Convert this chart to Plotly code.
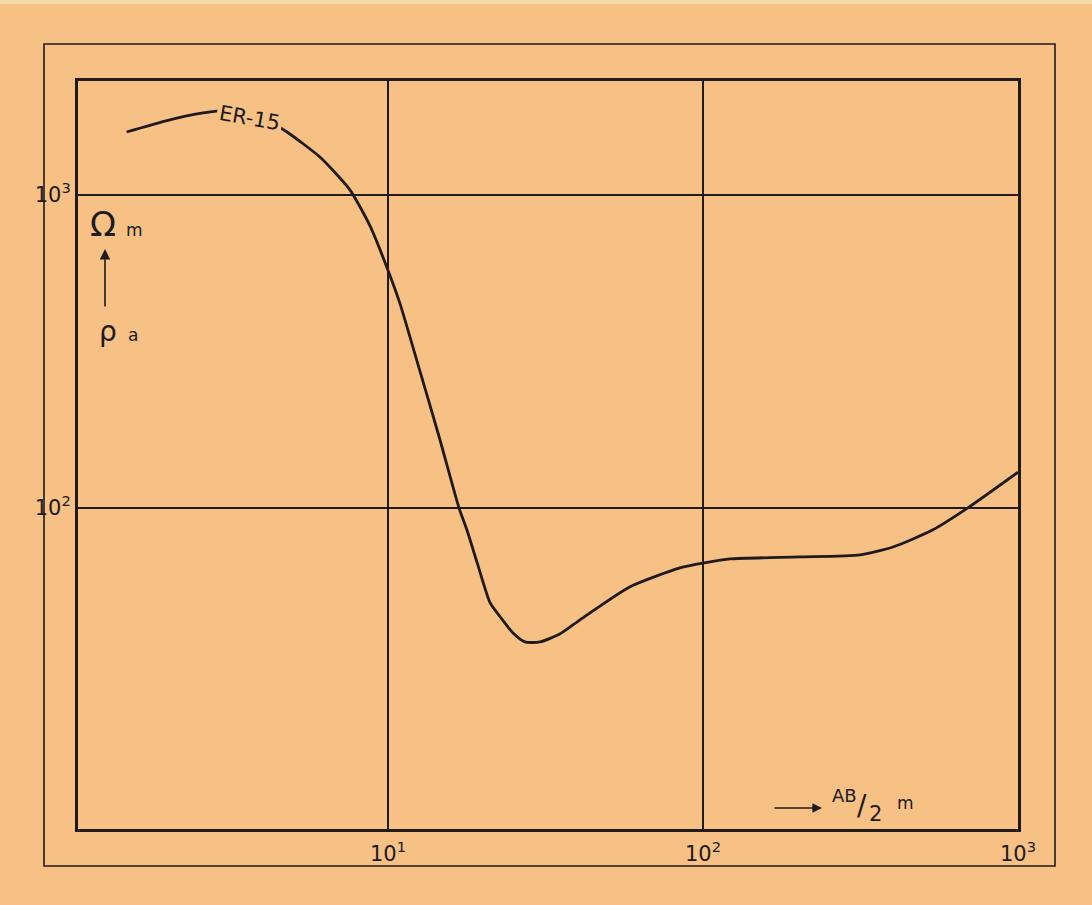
import plotly.graph_objects as go

# Data (AB/2 in m, apparent resistivity in ohm-m)
ab2 = [1.48, 1.96, 2.59, 3.27, 3.98, 4.78, 6.08, 7.57, 8.77, 10.0, 10.9, 12.6, 14.6,
       16.8, 17.8, 19.2, 21.1, 22.7, 24.9, 27.2, 30.4, 35.2, 40.7, 58.7, 84.5, 101,
       122, 203, 315, 401, 537, 693, 1000]
rho_a = [1589, 1722, 1828, 1869, 1775, 1589, 1321, 1038, 796, 575, 452, 276, 166,
         100, 85.1, 66.7, 49.7, 44.9, 39.9, 37.3, 37.3, 39.6, 43.9, 56.0, 64.3, 66.7,
         68.7, 69.7, 70.8, 75.0, 85.1, 100, 130]
x_tickvals = [10, 100, 1000]
x_ticktext = ["10<sup>1</sup>", "10<sup>2</sup>", "10<sup>3</sup>"]
y_tickvals = [100, 1000]
y_ticktext = ["10<sup>2</sup>", "10<sup>3</sup>"]
curve_name = "ER-15"

BG = "#F7C186"
INK = "#201a1c"
FONT = "DejaVu Sans"

W, H = 1092, 905
L, R, T, B = 78, 1018, 81, 829

def px(x):
    return (x - L) / (R - L)

def py(y):
    return (B - y) / (B - T)

fig = go.Figure()
fig.add_trace(go.Scatter(
    x=ab2, y=rho_a, mode="lines", name=curve_name,
    line=dict(color=INK, width=2.8, shape="spline", smoothing=0.6),
    showlegend=False, hoverinfo="skip",
))

axis_common = dict(
    type="log", showgrid=True, gridcolor=INK, gridwidth=1.6,
    showline=True, linecolor=INK, linewidth=3, mirror=True,
    ticks="", zeroline=False,
    tickfont=dict(family=FONT, size=21, color=INK),
)
fig.update_xaxes(range=[0.016, 3.0], tickmode="array", tickvals=x_tickvals,
                 ticktext=x_ticktext, ticklabelstandoff=4, **axis_common)
fig.update_yaxes(range=[0.974, 3.364], tickmode="array", tickvals=y_tickvals,
                 ticktext=y_ticktext, ticklabelstandoff=0, **axis_common)

shapes = [
    dict(type="rect", xref="paper", yref="paper",
         x0=px(44), x1=px(1055), y0=py(866), y1=py(44),
         line=dict(color=INK, width=1.6), fillcolor="rgba(0,0,0,0)", layer="below"),
    dict(type="rect", xref="paper", yref="paper",
         x0=px(0), x1=px(W), y0=py(4), y1=py(0),
         line=dict(width=0), fillcolor="#F4DCA8", layer="below"),
]

def txt(x, y, s, size, angle=0, bg=None):
    d = dict(xref="paper", yref="paper", x=px(x), y=py(y), text=s,
             xanchor="center", yanchor="middle", showarrow=False, textangle=angle,
             font=dict(family=FONT, size=size, color=INK))
    if bg:
        d.update(bgcolor=bg, borderpad=2)
    return d

ann = []
# curve label (covers the curve line behind it)
ann.append(txt(249, 118, curve_name, 21, angle=10, bg=BG))
# y-axis unit label
ann.append(txt(103, 224, "Ω", 34))
ann.append(txt(134, 230, "m", 17))
ann.append(dict(xref="paper", yref="paper", x=px(105), y=py(249), text="",
                showarrow=True, ax=0, ay=59, arrowhead=2, arrowsize=1.3,
                arrowwidth=1.6, arrowcolor=INK))
ann.append(txt(108, 331, "ρ", 28))
ann.append(txt(133, 335, "a", 17))
# x-axis unit label
ann.append(dict(xref="paper", yref="paper", x=px(822), y=py(808), text="",
                showarrow=True, ax=-49, ay=0, arrowhead=2, arrowsize=1.2,
                arrowwidth=1.6, arrowcolor=INK))
ann.append(txt(844, 795, "AB", 18))
ann.append(txt(862, 805, "/", 28))
ann.append(txt(875, 814, "2", 21))
ann.append(txt(905, 803, "m", 17))

fig.update_layout(
    width=W, height=H,
    margin=dict(l=L, r=W - R, t=T, b=H - B),
    paper_bgcolor=BG, plot_bgcolor=BG,
    shapes=shapes, annotations=ann,
    font=dict(family=FONT, color=INK),
)

fig.write_html(
    "out.html",
    config={"displayModeBar": False},
    post_script="document.body.style.margin='0';document.body.style.background='#F7C186';",
)
